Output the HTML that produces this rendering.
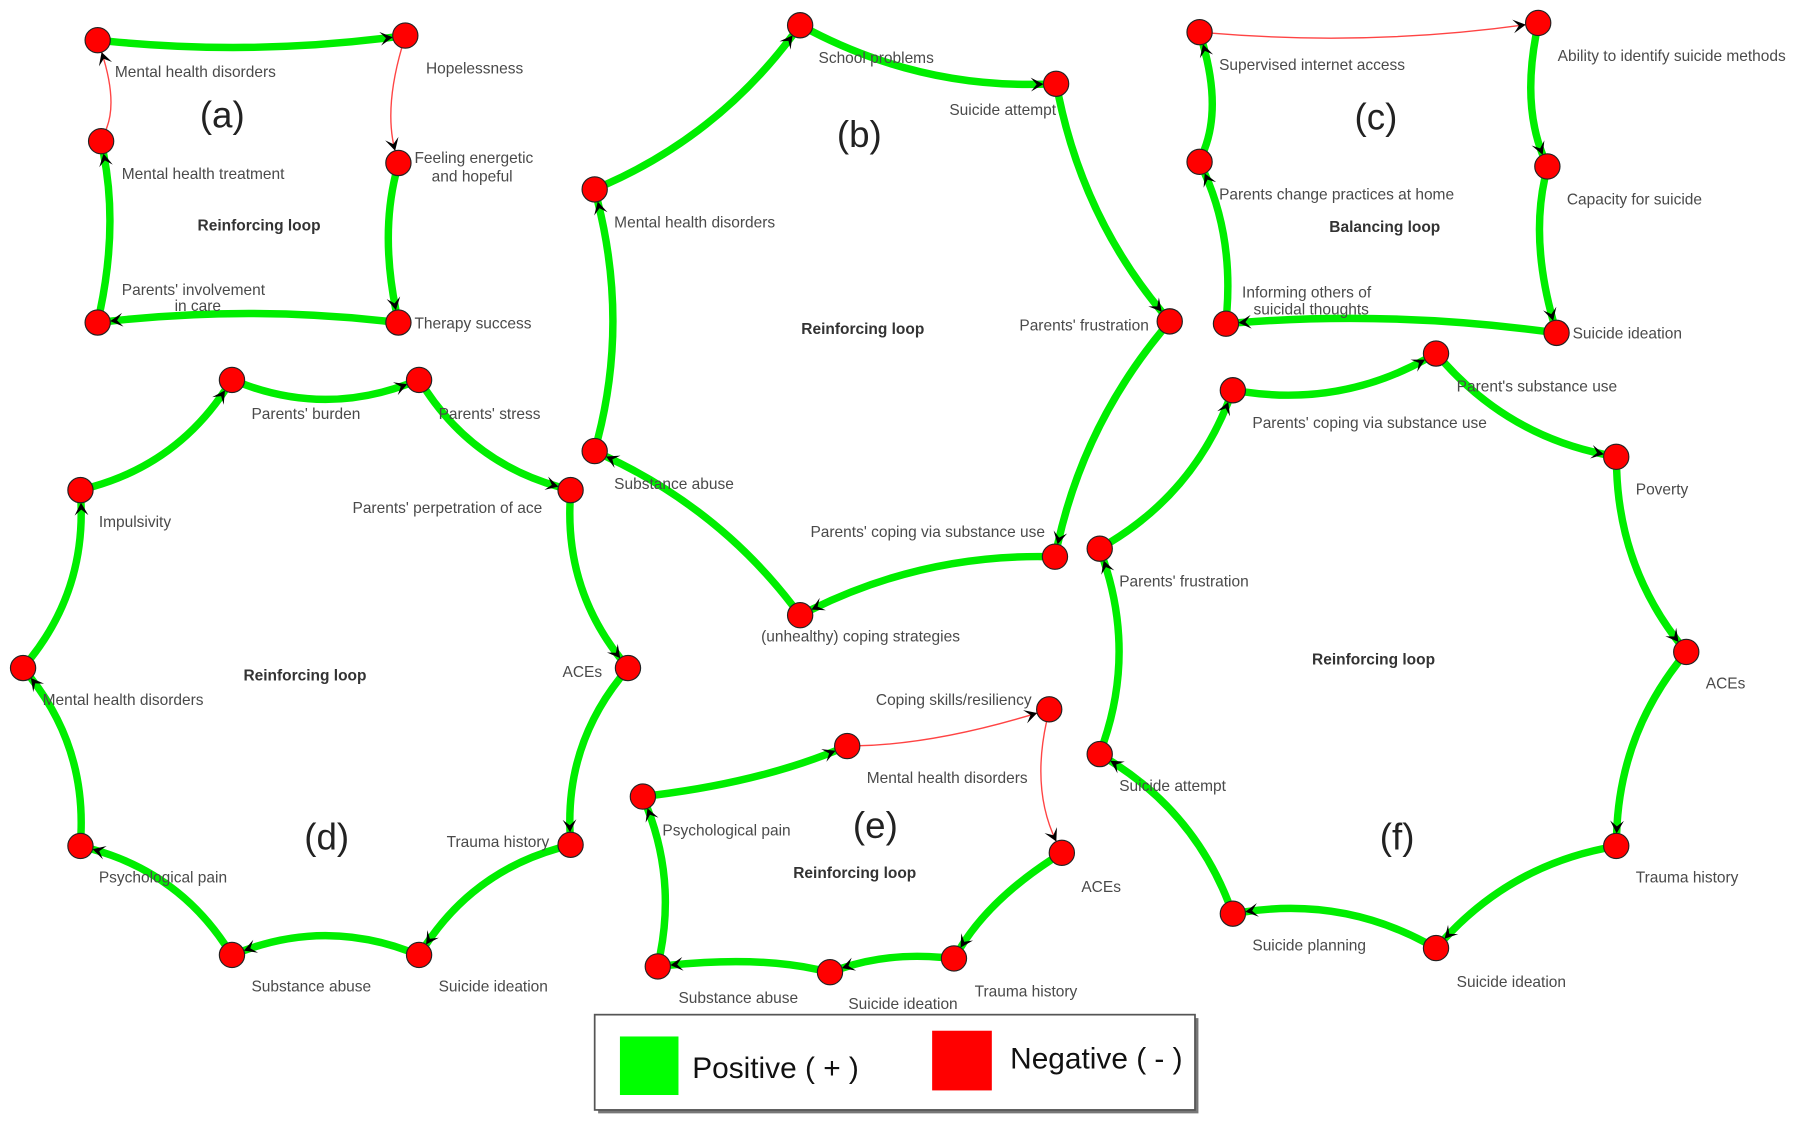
<!DOCTYPE html>
<html><head><meta charset="utf-8"><style>
html,body{margin:0;padding:0;background:#fff;}
svg{display:block;}
text{font-family:"Liberation Sans",Arial,sans-serif;}
.l{font-size:13.5px;fill:#4a4a4a;}
.t{font-size:13.5px;fill:#333;font-weight:bold;}
.p{font-size:32px;fill:#222;}
</style></head><body>
<svg id="s" width="1800" height="1126" viewBox="0 0 1568 981" xmlns="http://www.w3.org/2000/svg">
<g id="edges"></g>
<g id="nodes"></g>
<g>
<!-- (a) -->
<text class="l" x="100" y="67">Mental health disorders</text>
<text class="l" x="371" y="64">Hopelessness</text>
<text class="l" x="361" y="142">Feeling energetic</text>
<text class="l" x="376" y="158">and hopeful</text>
<text class="l" x="106" y="156">Mental health treatment</text>
<text class="l" x="106" y="257">Parents' involvement</text>
<text class="l" x="152" y="271">in care</text>
<text class="l" x="361" y="286">Therapy success</text>
<text class="t" x="172" y="201">Reinforcing loop</text>
<text class="p" x="174" y="111">(a)</text>
<!-- (b) -->
<text class="l" x="713" y="55">School problems</text>
<text class="l" x="827" y="100">Suicide attempt</text>
<text class="l" x="535" y="198">Mental health disorders</text>
<text class="l" x="888" y="288">Parents' frustration</text>
<text class="l" x="535" y="426">Substance abuse</text>
<text class="l" x="706" y="468">Parents' coping via substance use</text>
<text class="l" x="663" y="559">(unhealthy) coping strategies</text>
<text class="t" x="698" y="291">Reinforcing loop</text>
<text class="p" x="729" y="128">(b)</text>
<!-- (c) -->
<text class="l" x="1062" y="61">Supervised internet access</text>
<text class="l" x="1357" y="53">Ability to identify suicide methods</text>
<text class="l" x="1062" y="174">Parents change practices at home</text>
<text class="l" x="1365" y="178">Capacity for suicide</text>
<text class="l" x="1082" y="259">Informing others of</text>
<text class="l" x="1092" y="274">suicidal thoughts</text>
<text class="l" x="1370" y="295">Suicide ideation</text>
<text class="t" x="1158" y="202">Balancing loop</text>
<text class="p" x="1180" y="113">(c)</text>
<!-- (d) -->
<text class="l" x="219" y="365">Parents' burden</text>
<text class="l" x="382" y="365">Parents' stress</text>
<text class="l" x="307" y="447">Parents' perpetration of ace</text>
<text class="l" x="86" y="459">Impulsivity</text>
<text class="l" x="37" y="614">Mental health disorders</text>
<text class="l" x="490" y="590">ACEs</text>
<text class="l" x="389" y="738">Trauma history</text>
<text class="l" x="86" y="769">Psychological pain</text>
<text class="l" x="219" y="864">Substance abuse</text>
<text class="l" x="382" y="864">Suicide ideation</text>
<text class="t" x="212" y="593">Reinforcing loop</text>
<text class="p" x="265" y="740">(d)</text>
<!-- (e) -->
<text class="l" x="763" y="614">Coping skills/resiliency</text>
<text class="l" x="755" y="682">Mental health disorders</text>
<text class="l" x="577" y="728">Psychological pain</text>
<text class="l" x="942" y="777">ACEs</text>
<text class="l" x="849" y="868">Trauma history</text>
<text class="l" x="591" y="874">Substance abuse</text>
<text class="l" x="739" y="879">Suicide ideation</text>
<text class="t" x="691" y="765">Reinforcing loop</text>
<text class="p" x="743" y="730">(e)</text>
<!-- (f) -->
<text class="l" x="1269" y="341">Parent's substance use</text>
<text class="l" x="1091" y="373">Parents' coping via substance use</text>
<text class="l" x="1425" y="431">Poverty</text>
<text class="l" x="975" y="511">Parents' frustration</text>
<text class="l" x="1486" y="600">ACEs</text>
<text class="l" x="975" y="689">Suicide attempt</text>
<text class="l" x="1425" y="769">Trauma history</text>
<text class="l" x="1091" y="828">Suicide planning</text>
<text class="l" x="1269" y="860">Suicide ideation</text>
<text class="t" x="1143" y="579">Reinforcing loop</text>
<text class="p" x="1202" y="740">(f)</text>
</g>
<!-- legend -->
<rect x="521" y="887" width="523" height="83" fill="#777"/>
<rect x="518" y="884" width="523" height="83" fill="#fff" stroke="#555" stroke-width="1.5"/>
<rect x="540" y="903" width="51" height="51" fill="#00ff00"/>
<text x="603" y="939" font-size="26" fill="#111">Positive ( + )</text>
<rect x="812" y="898" width="52" height="52" fill="#ff0000"/>
<text x="880" y="931" font-size="26" fill="#111">Negative ( - )</text>
</svg>
<script>
var NS="http://www.w3.org/2000/svg";
var E=document.getElementById("edges"),N=document.getElementById("nodes");
var R=11;
function loop(nodes,edges,c,k){
  edges.forEach(function(e){
    var a=nodes[e[0]],b=nodes[e[1]],col=e[2];
    var mx=(a[0]+b[0])/2,my=(a[1]+b[1])/2;
    var cx=mx+(c[0]-mx)*k,cy=my+(c[1]-my)*k;
    // trim endpoints
    function trim(p,q){var dx=q[0]-p[0],dy=q[1]-p[1],d=Math.hypot(dx,dy);return [p[0]+dx/d*R,p[1]+dy/d*R];}
    var s=trim(a,[cx,cy]),t=trim(b,[cx,cy]);
    var p=document.createElementNS(NS,"path");
    p.setAttribute("d","M"+s[0]+" "+s[1]+" Q"+cx+" "+cy+" "+t[0]+" "+t[1]);
    p.setAttribute("fill","none");
    p.setAttribute("stroke",col=="g"?"#00ee00":"#ff4444");
    p.setAttribute("stroke-width",col=="g"?6.5:1.2);
    E.appendChild(p);
    // arrowhead
    var dx=t[0]-cx,dy=t[1]-cy,d=Math.hypot(dx,dy);dx/=d;dy/=d;
    var L=11,W=6;
    var bx=t[0]-dx*L,by=t[1]-dy*L;
    var h=document.createElementNS(NS,"path");
    h.setAttribute("d","M"+(bx-dy*W)+" "+(by+dx*W)+" L"+t[0]+" "+t[1]+" L"+(bx+dy*W)+" "+(by-dx*W)+" L"+(t[0]-dx*6)+" "+(t[1]-dy*6)+"Z");
    h.setAttribute("fill","#000");
    E.appendChild(h);
  });
  nodes.forEach(function(n){
    var ci=document.createElementNS(NS,"circle");
    ci.setAttribute("cx",n[0]);ci.setAttribute("cy",n[1]);ci.setAttribute("r",R);
    ci.setAttribute("fill","#ff0000");ci.setAttribute("stroke","#222");ci.setAttribute("stroke-width","1");
    N.appendChild(ci);
  });
}
function ring(nodes,cols,c,k){var e=[];for(var i=0;i<nodes.length;i++)e.push([i,(i+1)%nodes.length,cols[i]]);loop(nodes,e,c,k);}
// (a)
ring([[85,35],[353,31],[347,142],[347,281],[85,281],[88,123]],"grggrr".split("").map(function(x,i){return "grgggr"[i];}),[220,160],0.12);
// (b)
ring([[518,165],[697,22],[920,73],[1019,280],[919,485],[697,536],[518,393]],"ggggggg",[760,290],0.12);
// (c)
ring([[1045,28],[1340,20],[1348,145],[1356,290],[1068,282],[1045,141]],"rggggg",[1200,160],0.12);
// (d)
ring([[70,427],[202,331],[365,331],[497,427],[547,582],[497,736],[365,832],[202,832],[70,737],[20,582]],"gggggggggg",[283,582],0.12);
// (e)
ring([[560,694],[738,650],[914,618],[925,743],[831,835],[723,847],[573,842]],"grrgggg",[745,750],0.12);
// (f)
ring([[958,478],[1074,340],[1251,308],[1408,398],[1469,568],[1408,737],[1251,826],[1074,796],[958,657]],"ggggggggg",[1210,570],0.12);
</script>
</body></html>
